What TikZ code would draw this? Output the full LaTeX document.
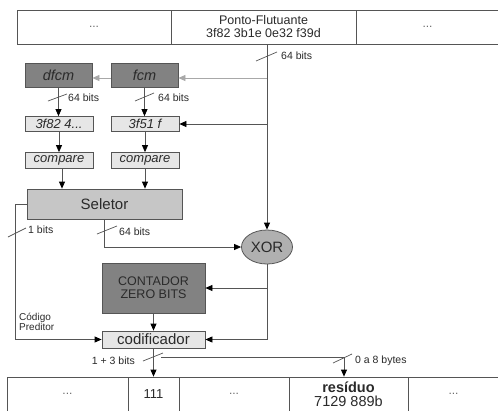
\documentclass[tikz,border=0pt]{standalone}
\usepackage{fontspec}
\setmainfont{Liberation Sans}
\usetikzlibrary{arrows.meta,calc,shapes.geometric}
\definecolor{ln}{HTML}{555555}
\definecolor{txt}{HTML}{2A2A2A}
\definecolor{dk}{HTML}{828282}
\definecolor{md}{HTML}{C6C6C6}
\definecolor{lt}{HTML}{E6E6E6}
\definecolor{xr}{HTML}{B0B0B0}
\definecolor{gl}{HTML}{A8A8A8}
\definecolor{dots}{HTML}{6A6A6A}
\newcommand{\fs}[2]{\fontsize{#1}{#2}\selectfont}
\begin{document}
\begin{tikzpicture}[x=1pt,y=-1pt,
  box/.style={draw=ln, line width=0.8pt, inner sep=0pt, text=txt},
  arr/.style={draw=ln, line width=0.8pt, -{Triangle[length=7pt,width=6pt,color=black,fill=black]}},
  garr/.style={draw=gl, line width=0.8pt, -{Triangle[length=7pt,width=6pt,color=gl,fill=gl]}},
  slash/.style={draw=ln, line width=0.7pt},
  lbl/.style={text=txt, inner sep=0pt, font=\fs{10.5}{10.5}},
  dotsn/.style={text=dots, font=\fs{12}{12}}]
\useasboundingbox (0,0) rectangle (498,410);
\fill[white] (0,0) rectangle (498,410);
% top bar
\node[box, minimum width=154pt, minimum height=34pt, dotsn] (t1) at (94,27) {...};
\node[box, minimum width=185pt, minimum height=34pt, align=center, font=\fs{12.5}{13}] (t2) at (263.5,27) {Ponto-Flutuante\\3f82 3b1e 0e32 f39d};
\node[box, minimum width=143pt, minimum height=34pt, dotsn] (t3) at (427.5,27) {...};
% predictors
\node[box, fill=dk, minimum width=67pt, minimum height=24pt, font=\fs{14.5}{14.5}\itshape] (dfcm) at (58.5,75) {dfcm};
\node[box, fill=dk, minimum width=67pt, minimum height=24pt, font=\fs{14.5}{14.5}\itshape] (fcm) at (144.5,75) {fcm};
\node[box, fill=lt, minimum width=68pt, minimum height=15pt, font=\fs{13}{13}\itshape] (r1) at (59,124) {3f82 4...};
\node[box, fill=lt, minimum width=68pt, minimum height=15pt, font=\fs{13}{13}\itshape] (r2) at (145,124) {3f51 f};
\node[box, fill=lt, minimum width=68pt, minimum height=16pt, font=\fs{13}{13}\itshape] (c1) at (59,160.5) {compare};
\node[box, fill=lt, minimum width=68pt, minimum height=16pt, font=\fs{13}{13}\itshape] (c2) at (145,160.5) {compare};
\node[box, fill=md, minimum width=155pt, minimum height=30pt, font=\fs{15}{15}] (sel) at (104.5,204) {Seletor};
\node[box, fill=xr, ellipse, minimum width=51pt, minimum height=34pt, font=\fs{15}{15}] (xor) at (267,247) {XOR};
\node[box, fill=dk, minimum width=103pt, minimum height=50pt, align=center, font=\fs{12.5}{13.3}] (cnt) at (153.5,288) {CONTADOR\\ZERO BITS};
\node[box, fill=lt, minimum width=103pt, minimum height=17pt, font=\fs{15}{15}] (cod) at (153.5,339.5) {codificador};
% bottom bar
\node[box, minimum width=121pt, minimum height=34pt, dotsn] (b1) at (67.5,394) {...};
\node[box, minimum width=51pt, minimum height=34pt, font=\fs{13}{13}] (b2) at (153.5,394) {111};
\node[box, minimum width=110pt, minimum height=34pt, dotsn] (b3) at (234,394) {...};
\node[box, minimum width=119pt, minimum height=34pt, align=center, font=\fs{14.5}{14}] (b4) at (348.5,394) {\textbf{resíduo}\\7129 889b};
\node[box, minimum width=91pt, minimum height=34pt, dotsn] (b5) at (453.5,394) {...};
% connectors
\coordinate (g1) at (267,78);
\draw[arr] (xor.north |- t2.south) -- (xor.north);
\draw[garr] (g1) -- (fcm.east |- g1);
\draw[garr] (fcm.west |- g1) -- (dfcm.east |- g1);
\draw[arr] (xor.north |- r2.east) -- (r2.east);
\draw[arr] (dfcm.south) -- (dfcm.south |- r1.north);
\draw[arr] (fcm.south) -- (fcm.south |- r2.north);
\draw[arr] (r1.south) -- (c1.north);
\draw[arr] (r2.south) -- (c2.north);
\draw[arr] ([xshift=3pt]c1.south) -- ([xshift=3pt]c1.south |- sel.north);
\draw[arr] (c2.south) -- (c2.south |- sel.north);
\coordinate (lc) at (15,339.5);
\draw[arr] (sel.west) -| (lc) -- (cod.west);
\draw[arr] (sel.south) |- (xor.west);
\draw[arr] (xor.south) |- (cod.east);
\draw[arr] (xor.south |- cnt.east) -- (cnt.east);
\draw[arr] (cnt.south) -- (cod.north);
\draw[arr] (cod.south) -- (b2.north);
\coordinate (br) at (161,357);
\coordinate (rb) at (344,357);
\draw[arr] (br) -- (rb) -- (rb |- b4.north);
% slashes and labels
\draw[slash] (256,61) -- (277,52);
\node[lbl, anchor=west] (l1) at (281,56) {64 bits};
\draw[slash] (48,101) -- (67,94);
\node[lbl, anchor=west] (l2) at (68,97.5) {64 bits};
\draw[slash] (135,101) -- (154,93);
\node[lbl, anchor=west] (l3) at (158,97.5) {64 bits};
\draw[slash] (8,237) -- (26,228);
\node[lbl, anchor=west] (l4) at (28,230) {1 bits};
\draw[slash] (97,234) -- (117,226);
\node[lbl, anchor=west] (l5) at (119,232) {64 bits};
\draw[slash] (143,361) -- (163,353);
\node[lbl, anchor=east] (l6) at (135,361) {1 + 3 bits};
\draw[slash] (333,363) -- (352,354);
\node[lbl, anchor=west] (l7) at (355,361) {0 a 8 bytes};
\node[lbl, anchor=west, align=left, font=\fs{10}{10.5}] (l8) at (19,322) {Código\\Preditor};
\end{tikzpicture}
\end{document}
